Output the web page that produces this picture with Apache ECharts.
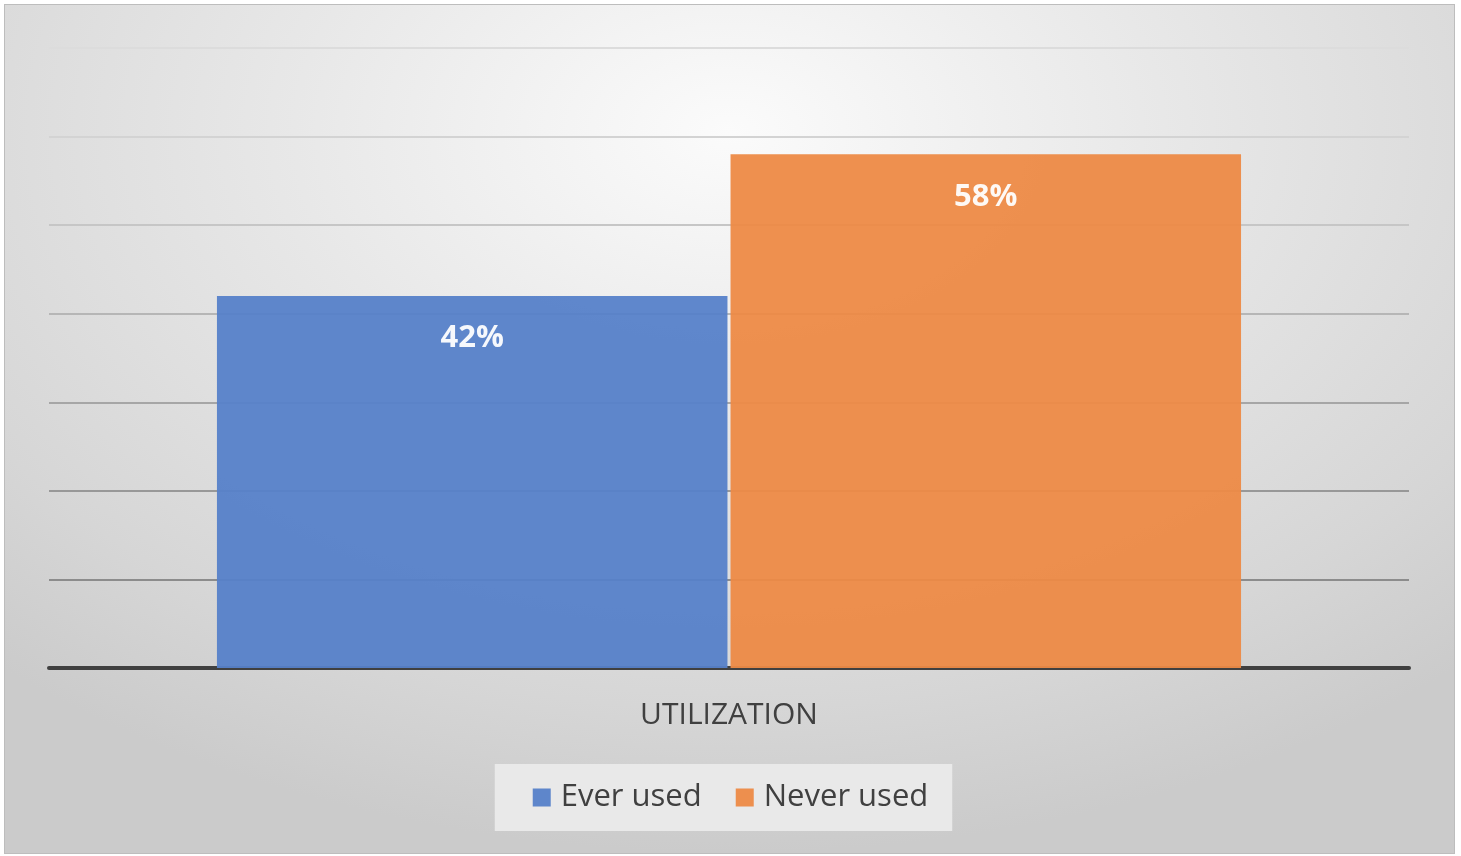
<!DOCTYPE html>
<html>
<head>
<meta charset="utf-8">
<script src="https://cdn.jsdelivr.net/npm/echarts@6/dist/echarts.min.js"></script>
<style>
html,body{margin:0;padding:0;background:#ffffff;}
#frame{position:absolute;left:4px;top:4px;width:1449px;height:848px;border:1px solid #bdbdbd;
background:radial-gradient(ellipse 75% 85% at 50% 15%, #fbfbfb 0%, #e8e8e8 40%, #d6d6d6 80%, #cbcbcb 100%);}
#chart{position:absolute;left:0;top:0;width:1461px;height:856px;}
</style>
</head>
<body>
<div id="frame"></div>
<div id="chart"></div>
<script>
const categories = ['UTILIZATION'];
const seriesNames = ['Ever used', 'Never used'];
const everUsed = [42];
const neverUsed = [58];
const yTicks = [0, 10, 20, 30, 40, 50, 60, 70];

const chart = echarts.init(document.getElementById('chart'), null, {renderer: 'canvas'});
const font = '"Open Sans", "Noto Sans", sans-serif';
const labelStyle = {
  show: true, position: 'insideTop', distance: 27,
  formatter: p => p.value + '%',
  color: '#ffffff', fontSize: 31, fontWeight: 'bold', fontFamily: font
};
chart.setOption({
  backgroundColor: 'transparent',
  animation: false,
  grid: {left: 49, right: 52, top: 48, bottom: 188},
  legend: {
    data: seriesNames, bottom: 25, left: 'center',
    backgroundColor: '#e9e9e9', padding: [18, 24, 18, 38],
    itemWidth: 18, itemHeight: 18, itemGap: 34, icon: 'rect',
    textStyle: {fontSize: 31, color: '#404040', fontFamily: font, padding: [0, 0, 0, 5]}
  },
  xAxis: {
    type: 'category', data: categories,
    axisLine: {lineStyle: {color: '#404040', width: 4}},
    axisTick: {show: false},
    axisLabel: {fontSize: 30, color: '#404040', margin: 32, fontFamily: font}
  },
  yAxis: {
    type: 'value', min: yTicks[0], max: yTicks[yTicks.length - 1], interval: 10,
    axisLabel: {show: false}, axisLine: {show: false}, axisTick: {show: false},
    splitLine: {lineStyle: {
      color: ['#808080', '#8c8c8c', '#989898', '#a6a6a6', '#b6b6b6', '#c6c6c6', '#d3d3d3', '#dcdcdc'],
      width: 2}}
  },
  series: [
    {name: seriesNames[0], type: 'bar', data: everUsed, barCategoryGap: '24.7%', barGap: '0.6%',
     itemStyle: {color: '#5681c9', opacity: 0.95}, label: labelStyle},
    {name: seriesNames[1], type: 'bar', data: neverUsed,
     itemStyle: {color: '#ed8a46', opacity: 0.95}, label: labelStyle}
  ]
});
</script>
</body>
</html>
